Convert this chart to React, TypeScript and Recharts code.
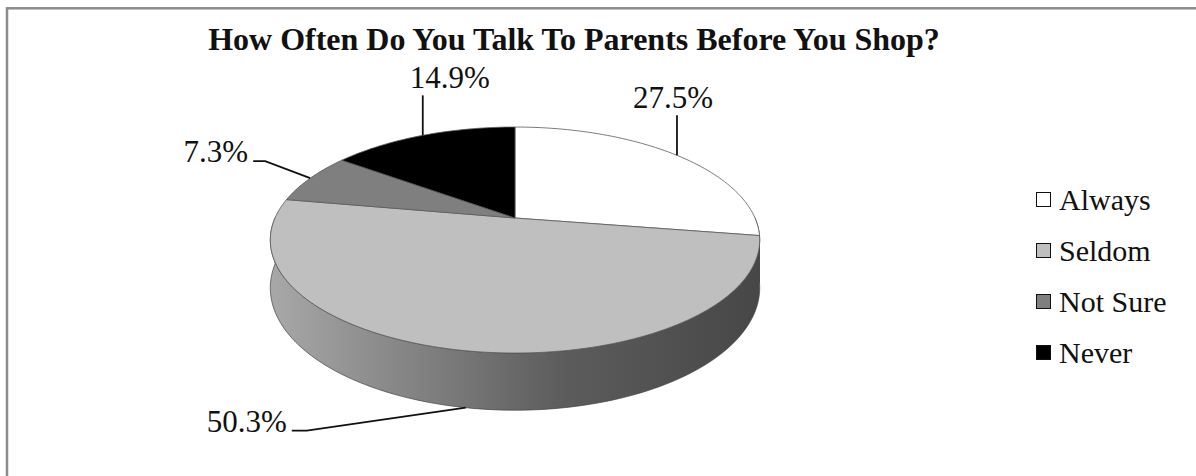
import React from 'react';
import { Cell, Legend, Pie, PieChart } from 'recharts';

const categories = ['Always', 'Seldom', 'Not Sure', 'Never'];
const shares = [27.5, 50.3, 7.3, 14.9];
const sliceColors = ['#ffffff', '#bfbfbf', '#7f7f7f', '#000000'];

const data = categories.map((name, i) => ({ name, value: shares[i] }));

const TITLE = 'How Often Do You Talk To Parents Before You Shop?';
const FONT = '"Liberation Serif", "Times New Roman", serif';

// fake 3D: tilt + a bit of perspective, and a wall under the rim
const TILT = 0.453;
const PERSP = 0.195;
const DEPTH = 46;

const WALL_SHADES: Record<string, string[]> = {
  '#ffffff': ['#8c8c8c', '#555555'],
  '#bfbfbf': ['#a8a8a8', '#5c5c5c', '#474747'],
  '#7f7f7f': ['#6a6a6a', '#3a3a3a'],
  '#000000': ['#222222', '#000000'],
};

const proj = (cx: number, cy: number, r: number, deg: number) => {
  const a = (deg * Math.PI) / 180;
  const s = Math.sin(a);
  const d = 1 + PERSP * s;
  return { x: cx + (r * Math.cos(a)) / d, y: cy - (r * TILT * s) / d, s, d };
};

const arcPoints = (cx: number, cy: number, r: number, from: number, to: number, drop = false) => {
  const n = Math.max(2, Math.ceil(Math.abs(to - from) / 1.5));
  const pts: string[] = [];
  for (let i = 0; i <= n; i++) {
    const p = proj(cx, cy, r, from + ((to - from) * i) / n);
    const y = drop ? p.y + DEPTH / p.d : p.y;
    pts.push(`${p.x.toFixed(2)},${y.toFixed(2)}`);
  }
  return pts;
};

const renderTop = (props: any) => {
  const { cx, cy, outerRadius, startAngle, endAngle, fill } = props;
  const pts = arcPoints(cx, cy, outerRadius, startAngle, endAngle);
  return <path d={`M${cx},${cy} L${pts.join(' L')} Z`} fill={fill} stroke="#5a5a5a" strokeWidth={0.8} />;
};

const renderWall = (props: any) => {
  const { cx, cy, outerRadius, startAngle, endAngle, fill } = props;
  // only the front half of the rim is visible
  const hi = Math.min(Math.max(startAngle, endAngle), 0);
  const lo = Math.max(Math.min(startAngle, endAngle), -180);
  if (hi - lo <= 0.01) return <g />;
  const top = arcPoints(cx, cy, outerRadius, lo, hi);
  const bottom = arcPoints(cx, cy, outerRadius, hi, lo, true);
  const shades = WALL_SHADES[fill] || ['#999', '#555'];
  const id = `wall-${String(fill).replace('#', '')}`;
  return (
    <g>
      <defs>
        <linearGradient id={id} x1="0" y1="0" x2="1" y2="0">
          {shades.map((c, i) => (
            <stop key={i} offset={shades.length === 3 && i === 1 ? 0.6 : i / (shades.length - 1)} stopColor={c} />
          ))}
        </linearGradient>
      </defs>
      <path d={`M${top.join(' L')} L${bottom.join(' L')} Z`} fill={`url(#${id})`} stroke="#444" strokeWidth={0.7} />
    </g>
  );
};

const LABEL_LAYOUT = [
  { kind: 'up', dx: -4 },
  { kind: 'left', ex: -159, ey: 23, len: 15 },
  { kind: 'left', ex: -45, ey: -17, len: 12 },
  { kind: 'up', dx: 27 },
];

const renderLabel = (props: any) => {
  const { cx, cy, outerRadius, midAngle, index, value } = props;
  const p = proj(cx, cy, outerRadius, midAngle);
  const ax = p.x;
  const ay = p.s < 0 ? p.y + DEPTH / p.d : p.y;
  const text = `${Number(value).toFixed(1)}%`;
  const lay: any = LABEL_LAYOUT[index];
  const txt = { fontFamily: FONT, fontSize: 31, fill: '#111' };
  if (lay.kind === 'up') {
    return (
      <g>
        <line x1={ax} y1={ay} x2={ax} y2={ay - 40} stroke="#111" strokeWidth={1.8} />
        <text x={ax + lay.dx} y={ay - 47} textAnchor="middle" {...txt}>
          {text}
        </text>
      </g>
    );
  }
  const bx = ax + lay.ex;
  const by = ay + lay.ey;
  return (
    <g>
      <polyline points={`${ax},${ay} ${bx},${by} ${bx - lay.len},${by}`} fill="none" stroke="#111" strokeWidth={1.8} />
      <text x={bx - lay.len - 5} y={by + 1} textAnchor="end" {...txt}>
        {text}
      </text>
    </g>
  );
};

const renderLegend = (props: any) => {
  const items = (props.payload || [])
    .filter((p: any) => p.type !== 'none' && categories.includes(p.value))
    .sort((a: any, b: any) => categories.indexOf(a.value) - categories.indexOf(b.value));
  return (
    <div style={{ fontFamily: FONT, fontSize: 30, color: '#111' }}>
      {items.map((p: any) => (
        <div key={p.value} style={{ height: 51, display: 'flex', alignItems: 'center' }}>
          <span
            style={{
              width: 13,
              height: 13,
              border: '1.5px solid #111',
              background: p.color,
              marginRight: 8,
              display: 'inline-block',
            }}
          />
          <span>{p.value}</span>
        </div>
      ))}
    </div>
  );
};

const App = () => {
  return (
    <div style={{ position: 'absolute', left: 0, top: 0, width: 1196, height: 476, background: '#fff' }}>
      <PieChart width={1196} height={476} margin={{ top: 0, right: 0, bottom: 0, left: 0 }}>
        <Pie
          data={data}
          dataKey="value"
          nameKey="name"
          cx={515}
          cy={218}
          outerRadius={240}
          startAngle={90}
          endAngle={-270}
          stroke="none"
          legendType="none"
          shape={renderWall}
          isAnimationActive={false}
        >
          {data.map((d, i) => (
            <Cell key={d.name} fill={sliceColors[i]} />
          ))}
        </Pie>
        <Pie
          data={data}
          dataKey="value"
          nameKey="name"
          cx={515}
          cy={218}
          outerRadius={240}
          startAngle={90}
          endAngle={-270}
          stroke="none"
          shape={renderTop}
          label={renderLabel}
          labelLine={false}
          isAnimationActive={false}
        >
          {data.map((d, i) => (
            <Cell key={d.name} fill={sliceColors[i]} />
          ))}
        </Pie>
        <Legend
          layout="vertical"
          align="right"
          verticalAlign="top"
          content={renderLegend}
          wrapperStyle={{ left: 1036, top: 174, width: 160 }}
        />
      </PieChart>
      <svg width={1196} height={476} style={{ position: 'absolute', left: 0, top: 0, pointerEvents: 'none' }}>
        <rect x={7} y={8.3} width={1400} height={700} fill="none" stroke="#8c8c8c" strokeWidth={2.5} />
        <text x={574} y={50} textAnchor="middle" fontFamily={FONT} fontWeight="bold" fontSize={32} fill="#111">
          {TITLE}
        </text>
      </svg>
    </div>
  );
};

export default App;
